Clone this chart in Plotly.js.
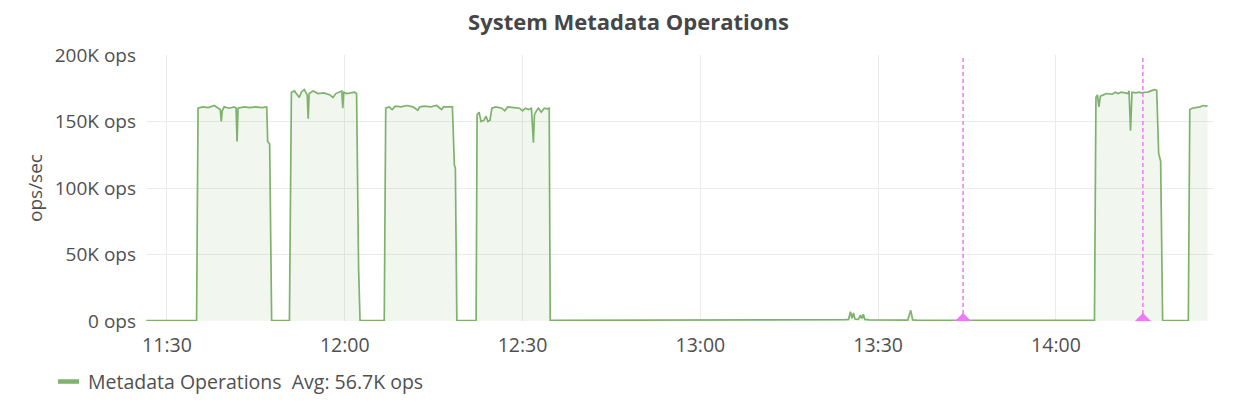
<!DOCTYPE html>
<html>
<head>
<meta charset="utf-8">
<script src="https://cdn.plot.ly/plotly-3.0.1.min.js"></script>
<style>
html,body{margin:0;padding:0;background:#fff;}
#chart{width:1242px;height:418px;}
</style>
</head>
<body>
<div id="chart"></div>
<script>
// ---- data (values in K ops/sec) ----
const DAY = "2017-03-01 ";
const times = [
"11:26:30","11:30:00","11:35:00","11:35:15","11:36:00","11:37:00","11:38:00","11:38:40","11:39:00","11:39:10",
"11:39:20","11:39:40","11:40:30","11:41:20","11:41:40","11:41:50","11:42:00","11:43:00","11:44:00","11:45:00",
"11:46:00","11:46:50","11:47:00","11:47:20","11:47:40",
"11:50:40","11:51:00","11:51:30","11:52:00","11:52:20","11:52:40","11:53:10","11:53:40","11:53:50","11:54:00",
"11:54:40","11:55:30","11:56:30","11:57:30","11:58:00","11:58:30","11:59:10","11:59:30","11:59:40","11:59:50",
"12:00:20","12:01:00","12:01:40","12:02:00","12:02:10","12:02:20","12:02:35",
"12:06:40","12:06:55","12:07:30","12:08:00","12:08:30","12:09:30","12:10:30","12:11:30","12:12:20","12:12:40",
"12:13:30","12:14:30","12:15:30","12:16:20","12:16:40","12:17:30","12:18:10","12:18:30","12:18:40","12:18:55",
"12:22:10","12:22:20","12:22:40","12:23:00","12:23:30","12:23:50","12:24:10","12:24:30","12:24:50","12:25:30",
"12:26:30","12:27:00","12:27:30","12:28:30","12:29:30","12:30:00","12:30:30","12:31:00","12:31:30","12:31:50",
"12:32:00","12:32:20","12:32:40","12:33:10","12:33:40","12:34:10","12:34:30","12:34:40",
"12:40:00","12:50:00","13:00:00","13:10:00","13:19:00","13:20:00","13:21:00","13:22:00","13:23:00","13:24:30",
"13:25:00","13:25:20","13:25:35","13:25:50","13:26:05","13:26:40","13:27:00","13:27:15","13:27:30","13:27:45",
"13:28:30","13:35:00","13:35:30","13:35:50","13:36:30","13:45:00","13:55:00","14:06:30",
"14:06:45","14:07:00","14:07:15","14:07:30","14:08:00","14:08:30","14:09:30","14:10:00","14:10:30","14:11:00",
"14:11:40","14:12:10","14:12:20","14:12:35","14:12:50","14:13:30","14:14:00","14:14:30","14:15:00","14:15:30",
"14:16:00","14:16:40","14:17:00","14:17:20","14:17:40","14:18:00",
"14:22:20","14:22:35","14:23:00","14:23:40","14:24:20","14:24:50","14:25:20","14:25:35"
];
const opsK = [
0.3,0.3,0.3,160,161,160.5,162,160,159,150,
158,161,160,161,160,135,160,161,160.5,161,
160.5,161,135,133,0.3,
0.3,172,173,170,168,172,174,170,152,171,
173,171,171.5,170,168,171,172,173,160,172,
171,171.5,172,171,95,40,0.3,
0.3,160,161,159,161.5,161,162,161,158.5,161,
161.5,161,162,159,161,161,161,117,115,0.3,
0.3,155,157,150,151,154,150,151,160,161,
160,158,161,160.5,160,158,160,159,160,134,
155,158,160,157,160,159.5,160,0.5,
0.5,0.6,0.5,0.6,0.8,1.0,0.7,1.0,0.8,1.0,
1.2,7,2,6,1.5,1.2,4.5,2,5,1.2,
0.8,0.7,8,0.8,0.6,0.5,0.6,0.5,
168,170,161,169,170,171,170.5,172,171,172,
171.5,171,173,143,172,171.5,172,171.5,172,172,
173,174,173.5,126,120,0.3,
0.3,159,160,160.5,161,162,161.5,162
];
const annotationTimes = ["13:44:20","14:14:40"];
const yTickVals = [0, 50000, 100000, 150000, 200000];
const yTickText = ["0 ops", "50K ops", "100K ops", "150K ops", "200K ops"];
const xTickTimes = ["11:30","12:00","12:30","13:00","13:30","14:00"];
const seriesName = "Metadata Operations";
const avgLabel = "Avg: 56.7K ops";

const FONT = "Open Sans, Noto Sans, sans-serif";
const GREEN = "#7eb26d";
const ANNO = "#ee78f5";
const TXT = "#505050";

const x = times.map(t => DAY + t);
const y = opsK.map(v => v * 1000);

const traces = [{
  type: "scatter", mode: "lines", x: x, y: y, name: seriesName,
  line: {color: GREEN, width: 1.7},
  fill: "tozeroy", fillcolor: "rgba(126,178,109,0.11)",
  hoverinfo: "x+y", showlegend: false
}];

const shapes = [];
annotationTimes.forEach(t => {
  shapes.push({type: "line", xref: "x", yref: "paper", x0: DAY + t, x1: DAY + t, y0: 0, y1: 1,
    line: {color: ANNO, width: 1.5, dash: "4px,3px"}});
  shapes.push({type: "path", xref: "x", yref: "y", xsizemode: "pixel", ysizemode: "pixel",
    xanchor: DAY + t, yanchor: 0, path: "M-8,0 L8,0 L0,8 Z",
    fillcolor: ANNO, line: {width: 0}});
});
// legend swatch
shapes.push({type: "line", xref: "paper", yref: "paper", x0: -0.0825, x1: -0.0628, y0: -0.2275, y1: -0.2275,
  line: {color: GREEN, width: 4.5}});

const layout = {
  width: 1242, height: 418,
  margin: {l: 146, r: 29, t: 55, b: 97},
  paper_bgcolor: "#fff", plot_bgcolor: "#fff",
  font: {family: FONT, color: TXT, size: 19},
  title: {text: "<b>System Metadata Operations</b>", x: 0.506, xanchor: "center", y: 0.947, yanchor: "middle",
    xref: "container", yref: "container", font: {family: FONT, size: 22, color: "#464646"}},
  xaxis: {
    type: "date", range: [DAY + "11:26:28", DAY + "14:26:30"],
    tickvals: xTickTimes.map(t => DAY + t), ticktext: xTickTimes,
    showgrid: true, gridcolor: "#ebebeb", gridwidth: 1,
    zeroline: false, showline: false, ticks: "", fixedrange: true,
    ticklabelstandoff: 10,
    tickfont: {size: 19.5, color: TXT}
  },
  yaxis: {
    range: [0, 200000], tickvals: yTickVals, ticktext: yTickText,
    showgrid: true, gridcolor: "#ebebeb", gridwidth: 1,
    zeroline: false, showline: false, ticks: "", fixedrange: true,
    ticklabelstandoff: 9,
    tickfont: {size: 19, color: TXT},
    title: {text: "ops/sec", font: {size: 19, color: TXT}, standoff: 7}
  },
  shapes: shapes,
  annotations: [{
    xref: "paper", yref: "paper", x: -0.0565, y: -0.2275, xanchor: "left", yanchor: "middle",
    text: seriesName + "  " + avgLabel, showarrow: false,
    font: {family: FONT, size: 19.5, color: TXT}
  }],
  showlegend: false,
  hovermode: "closest"
};

Plotly.newPlot("chart", traces, layout, {displayModeBar: false, staticPlot: true});
</script>
</body>
</html>
